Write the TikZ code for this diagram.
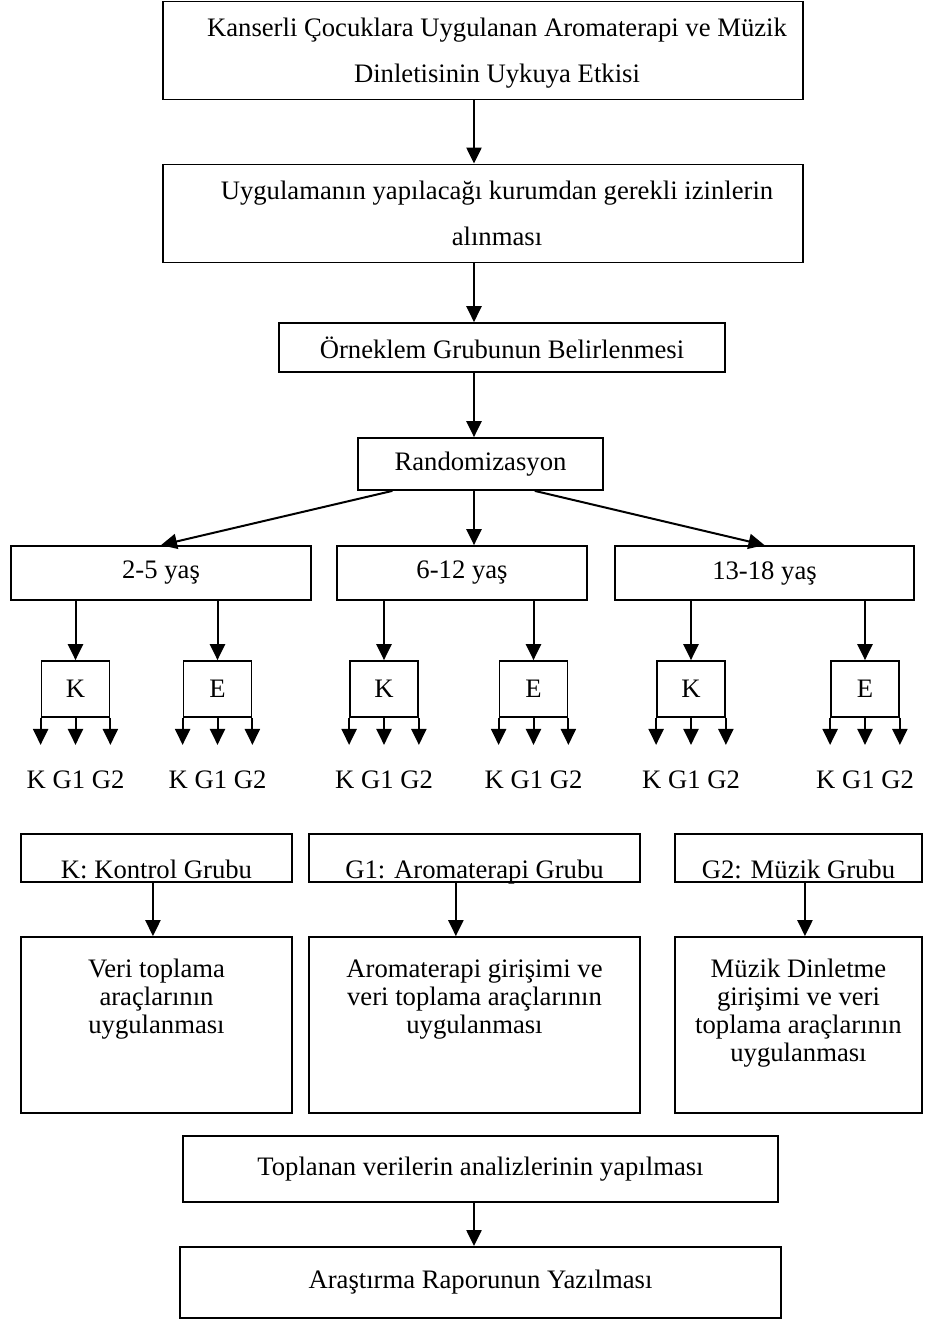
\documentclass[tikz,border=0pt]{standalone}
\usepackage{fontspec}
\setmainfont{Liberation Serif}
\usetikzlibrary{arrows.meta,calc}
\newcommand{\ic}{\hspace*{12.6pt}}
\tikzset{kutu/.style={draw,line width=.8pt,align=center,inner sep=0pt},
 ke/.style={kutu,minimum width=30.6pt,minimum height=25.2pt},
 yas/.style={kutu,minimum height=24.3pt},
 lejant/.style={draw,line width=.8pt,inner xsep=0pt,inner ysep=1.8pt,text height=18pt,text depth=0pt},
 islem/.style={draw,line width=.8pt,align=flush center,inner sep=0pt,text height=18pt,text depth=61.2pt,font=\fontsize{12}{12.6}\selectfont},
 iki/.style={draw,line width=.8pt,align=flush center,inner sep=0pt,text width=288pt,text height=15.75pt,text depth=28.4pt,font=\fontsize{12}{20.7}\selectfont},
 ok/.style={-{Triangle[width=6.8pt,length=7.2pt]},line width=.9pt}}
\begin{document}
\begin{tikzpicture}[x=.45pt,y=-.45pt,font=\fontsize{12}{14}\selectfont]
\useasboundingbox (0,0) rectangle (927,1320);
\coordinate (eksen) at (474,0);
\coordinate (sira) at (0,780);
% ust akis
\node[iki](baslik) at (483,50.5){\ic Kanserli Çocuklara Uygulanan Aromaterapi ve Müzik\\\ic Dinletisinin Uykuya Etkisi};
\node[iki](izin) at (483,213.5){\ic Uygulamanın yapılacağı kurumdan gerekli izinlerin\\\ic alınması};
\node[kutu,minimum width=200.7pt,minimum height=22pt](orneklem) at (502,347.5){Örneklem Grubunun Belirlenmesi};
\node[kutu,minimum width=110.3pt,minimum height=23.4pt](random) at (480.5,464){Randomizasyon};
\draw[ok](baslik.south -| eksen)--(izin.north -| eksen);
\draw[ok](izin.south -| eksen)--(orneklem.north -| eksen);
\draw[ok](orneklem.south -| eksen)--(random.north -| eksen);
% yas gruplari
\node[yas,minimum width=135pt](yas1) at (161,573){2-5 yaş};
\node[yas,minimum width=112.5pt](yas2) at (462,573){6-12 yaş};
\node[yas,minimum width=134.5pt](yas3) at (764.5,573){13-18 yaş};
\draw[ok]($(random.south west)!.143!(random.south east)$)--(yas1.north);
\draw[ok](random.south -| eksen)--(yas2.north -| eksen);
\draw[ok]($(random.south west)!.72!(random.south east)$)--(yas3.north);
% kontrol / deney
\node[ke](k1) at (75.5,689){K};\node[ke](e1) at (217.5,689){E};
\node[ke](k2) at (384,689){K};\node[ke](e2) at (533.5,689){E};
\node[ke](k3) at (691,689){K};\node[ke](e3) at (865,689){E};
\draw[ok](yas1.south -| k1)--(k1);\draw[ok](yas1.south -| e1)--(e1);
\draw[ok](yas2.south -| k2)--(k2);\draw[ok](yas2.south -| e2)--(e2);
\draw[ok](yas3.south -| k3)--(k3);\draw[ok](yas3.south -| e3)--(e3);
\foreach \b in {k1,e1,k2,e2,k3,e3}{
 \draw[ok](\b.south west)--++(0,27);
 \draw[ok](\b.south)--++(0,27);
 \draw[ok](\b.south east)--++(0,27);
 \node(g\b) at (\b |- sira){K G1 G2};}
% gruplar
\node[lejant,minimum width=122pt](lk) at (156.5,858){K: Kontrol Grubu};
\node[lejant,minimum width=149pt](lg1) at (474.5,858){G1: Aromaterapi Grubu};
\node[lejant,minimum width=111pt](lg2) at (798.5,858){G2: Müzik Grubu};
\node[islem,text width=122pt](veri) at (156.5,1025){Veri toplama\\araçlarının\\uygulanması};
\node[islem,text width=149pt](aroma) at (474.5,1025){Aromaterapi girişimi ve\\veri toplama araçlarının\\uygulanması};
\node[islem,text width=111pt](muzik) at (798.5,1025){Müzik Dinletme\\girişimi ve veri\\toplama araçlarının\\uygulanması};
\coordinate (a0) at ($(lk.south west)!.487!(lk.south east)$);
\coordinate (a1) at ($(lg1.south west)!.444!(lg1.south east)$);
\coordinate (a2) at ($(lg2.south west)!.526!(lg2.south east)$);
\draw[ok](a0)--(a0 |- veri.north);
\draw[ok](a1)--(a1 |- aroma.north);
\draw[ok](a2)--(a2 |- muzik.north);
% sonuc
\node[kutu,minimum width=267.75pt,minimum height=29.7pt](analiz) at (480.5,1169){Toplanan verilerin analizlerinin yapılması};
\node[kutu,minimum width=270.5pt,minimum height=32pt](rapor) at (480.5,1282.5){Araştırma Raporunun Yazılması};
\draw[ok](analiz.south -| eksen)--(rapor.north -| eksen);
\end{tikzpicture}
\end{document}
